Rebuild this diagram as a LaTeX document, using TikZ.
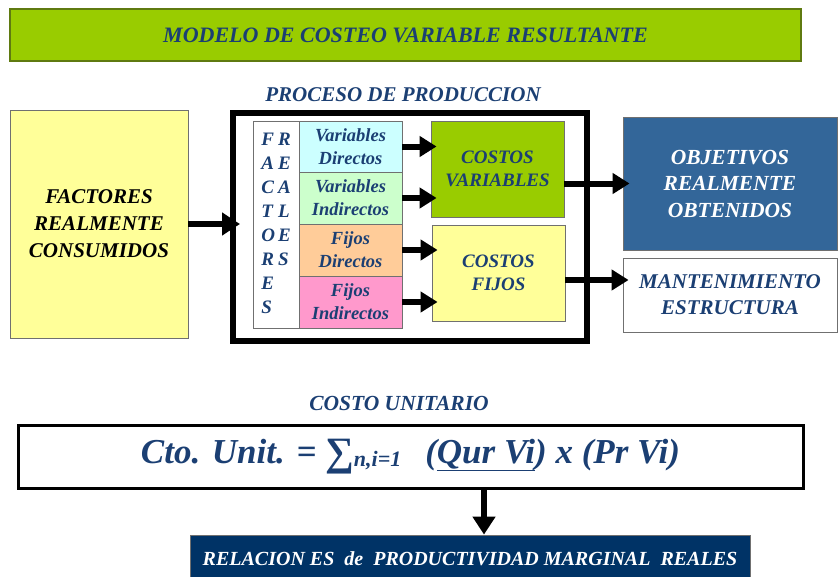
\documentclass[tikz,border=0pt]{standalone}
\usepackage{fontspec}
\setmainfont{Liberation Serif}
\usetikzlibrary{arrows.meta,calc}
\definecolor{navy}{HTML}{1B3F73}
\definecolor{lime}{HTML}{99CC00}
\definecolor{limeborder}{HTML}{5F7A10}
\definecolor{paleyellow}{HTML}{FFFF99}
\definecolor{palecyan}{HTML}{CCFFFF}
\definecolor{palegreen}{HTML}{CCFFCC}
\definecolor{peach}{HTML}{FFCC99}
\definecolor{pink}{HTML}{FF99CC}
\definecolor{steel}{HTML}{336699}
\definecolor{darknavy}{HTML}{003366}
\definecolor{boxgray}{HTML}{707070}
\newcommand{\fsz}[2]{\fontsize{#1}{#2}\selectfont\bfseries\itshape}
\begin{document}
\begin{tikzpicture}[x=1pt,y=-1pt,
  box/.style={draw=boxgray, line width=0.8pt, inner sep=0pt, align=center},
  lbl/.style={inner sep=0pt, align=center},
  bigarrow/.style={line width=6pt, -{Triangle[length=18pt,width=22pt]}},
  midarrow/.style={line width=6pt, -{Triangle[length=17pt,width=20pt]}}]
\useasboundingbox (0,0) rectangle (838,576);
% title
\node[box, draw=limeborder, line width=1.5pt, fill=lime, minimum width=791pt, minimum height=52pt,
  text=navy, font=\fsz{22}{26}] (title) at (405.5,35) {MODELO DE COSTEO VARIABLE RESULTANTE};
% process label
\node[lbl, text=navy, font=\fsz{21}{25}] (proclbl) at (403,95) {PROCESO DE PRODUCCION};
% factores
\node[box, fill=paleyellow, minimum width=178pt, minimum height=228pt, font=\fsz{21}{27}] (factores) at (99,224)
  {FACTORES\\REALMENTE\\CONSUMIDOS};
% big process box
\node[draw=black, line width=6pt, inner sep=0pt, minimum width=354pt, minimum height=228pt] (proc) at (410,227) {};
% factores reales column
\node[box, fill=white, minimum width=46pt, minimum height=207pt] (col) at (276,224.5) {};
\node[lbl, text=navy, font=\fsz{19}{24}] (coltext) at (col.center)
  {\begin{tabular}{@{}l@{\hspace{3pt}}l@{}}F&R\\A&E\\C&A\\T&L\\O&E\\R&S\\E&\\S&\end{tabular}};
% four cost lines
\node[box, fill=palecyan, minimum width=103pt, minimum height=51pt, text=navy, font=\fsz{18.5}{23}] (vd) at (350.5,146.5) {Variables\\Directos};
\node[box, fill=palegreen, minimum width=103pt, minimum height=52pt, text=navy, font=\fsz{18.5}{23}] (vi) at (350.5,198) {Variables\\Indirectos};
\node[box, fill=peach, minimum width=103pt, minimum height=52pt, text=navy, font=\fsz{18.5}{23}] (fd) at (350.5,250) {Fijos\\Directos};
\node[box, fill=pink, minimum width=103pt, minimum height=52pt, text=navy, font=\fsz{18.5}{23}] (fi) at (350.5,302) {Fijos\\Indirectos};
% costos
\node[box, fill=lime, minimum width=133pt, minimum height=96pt, text=navy, font=\fsz{19}{23}] (cv) at (497.5,169) {COSTOS\\VARIABLES};
\node[box, fill=paleyellow, minimum width=133pt, minimum height=96pt, text=navy, font=\fsz{19}{23}] (cf) at (498.5,273) {COSTOS\\FIJOS};
% outputs
\node[box, fill=steel, minimum width=214pt, minimum height=133pt, text=white, font=\fsz{21.5}{26.5}] (obj) at (730,183.5) {OBJETIVOS\\REALMENTE\\OBTENIDOS};
\node[box, fill=white, minimum width=214pt, minimum height=74pt, text=navy, font=\fsz{21}{26}] (mant) at (730,295) {MANTENIMIENTO\\ESTRUCTURA};
% arrows
\coordinate (cfout) at ($(cf.east)+(0,7)$);
\draw[bigarrow] (factores.east) -- ([xshift=10pt]factores.east -| proc.west);
\draw[midarrow] (vd.east) -- ([xshift=6pt]vd.east -| cv.west);
\draw[midarrow] (vi.east) -- ([xshift=6pt]vi.east -| cv.west);
\draw[midarrow] (fd.east) -- ([xshift=6pt]fd.east -| cf.west);
\draw[midarrow] (fi.east) -- ([xshift=6pt]fi.east -| cf.west);
\draw[midarrow] (cv.east |- obj.west) -- ([xshift=7pt]obj.west);
\draw[midarrow] (cfout) -- ([xshift=6pt]cfout -| mant.west);
% costo unitario
\node[lbl, text=navy, font=\fsz{21.5}{25}] (culbl) at (399,403) {COSTO UNITARIO};
\node[draw=black, line width=3pt, inner sep=0pt, minimum width=785pt, minimum height=63pt, text=navy] (formula) at (410.5,456.5)
  {\fsz{35}{40}Cto. Unit. = \raisebox{-2pt}{\scalebox{1.15}{∑}}{\fontsize{22}{22}\selectfont\raisebox{-3pt}{n,i=1}}\hspace{24pt}(\underline{Qur Vi}) x (Pr Vi)};
\node[box, draw=boxgray, fill=darknavy, minimum width=560pt, minimum height=47pt, text=white, font=\fsz{20}{24}] (rel) at (470,558.5)
  {RELACION ES\ \ de\ \ PRODUCTIVIDAD MARGINAL\ \ REALES};
\draw[bigarrow] ([xshift=73.5pt]formula.south) -- ([xshift=73.5pt]formula.south |- rel.north);
\end{tikzpicture}
\end{document}
